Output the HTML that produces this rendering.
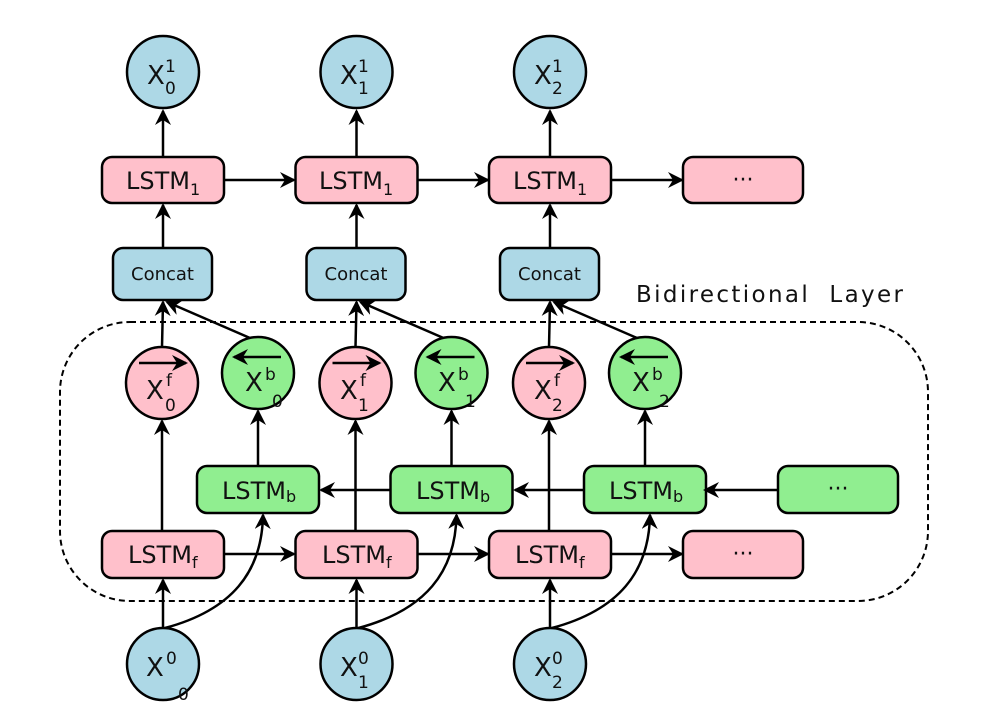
<!DOCTYPE html>
<html><head><meta charset="utf-8"><style>
html,body{margin:0;padding:0;background:#fff;}
svg{display:block;}
text{font-family:"DejaVu Sans","Liberation Sans",sans-serif;fill:#111;}
</style></head><body>
<svg width="982" height="724" viewBox="0 0 982 724" xmlns="http://www.w3.org/2000/svg">
<defs>
<marker id="a" markerWidth="16" markerHeight="16" refX="14" refY="8" orient="auto" markerUnits="userSpaceOnUse">
<path d="M0,0 L16,8 L0,16 L5,8 Z" fill="#000"/>
</marker>
<g id="col" stroke="#000" stroke-width="2.5">
  <line x1="163" y1="157" x2="163" y2="111" marker-end="url(#a)"/>
  <line x1="163" y1="248" x2="163" y2="205" marker-end="url(#a)"/>
  <line x1="162" y1="347" x2="163" y2="302" marker-end="url(#a)"/>
  <line x1="250" y1="338" x2="167" y2="302" marker-end="url(#a)"/>
  <line x1="162" y1="531" x2="162" y2="421" marker-end="url(#a)"/>
  <line x1="258" y1="466" x2="258" y2="411" marker-end="url(#a)"/>
  <line x1="163" y1="628" x2="163" y2="580" marker-end="url(#a)"/>
  <path d="M165,628 C232,610 262,572 263,515" fill="none" marker-end="url(#a)"/>
  <circle cx="163" cy="72" r="36" fill="#add8e6"/>
  <rect x="102" y="157" width="122" height="46" rx="10" fill="#ffc0cb"/>
  <rect x="113" y="248" width="99" height="52" rx="10" fill="#add8e6"/>
  <circle cx="162" cy="383" r="36" fill="#ffc0cb"/>
  <circle cx="258" cy="373" r="36" fill="#90ee90"/>
  <rect x="197" y="466" width="122" height="47" rx="10" fill="#90ee90"/>
  <rect x="102" y="531" width="122" height="47" rx="10" fill="#ffc0cb"/>
  <circle cx="163" cy="664" r="36" fill="#add8e6"/>
  <line x1="139" y1="363" x2="186" y2="363" marker-end="url(#a)"/>
  <line x1="281" y1="357" x2="234" y2="357" marker-end="url(#a)"/>
</g>
</defs>

<rect x="60" y="322" width="868" height="279" rx="70" fill="none" stroke="#000" stroke-width="2" stroke-dasharray="6,4"/>
<text x="636" y="302" font-size="23" textLength="267">Bidirectional&#160;&#160;Layer</text>

<use href="#col"/>
<use href="#col" transform="translate(193.5,0)"/>
<use href="#col" transform="translate(387,0)"/>

<g stroke="#000" stroke-width="2.5">
  <line x1="224" y1="180" x2="294" y2="180" marker-end="url(#a)"/>
  <line x1="418" y1="180" x2="488" y2="180" marker-end="url(#a)"/>
  <line x1="611" y1="180" x2="682" y2="180" marker-end="url(#a)"/>
  <line x1="224" y1="554" x2="294" y2="554" marker-end="url(#a)"/>
  <line x1="418" y1="554" x2="488" y2="554" marker-end="url(#a)"/>
  <line x1="611" y1="554" x2="682" y2="554" marker-end="url(#a)"/>
  <line x1="390" y1="490" x2="321" y2="490" marker-end="url(#a)"/>
  <line x1="584" y1="490" x2="515" y2="490" marker-end="url(#a)"/>
  <line x1="778" y1="490" x2="705" y2="490" marker-end="url(#a)"/>
  <rect x="683" y="157" width="120" height="46" rx="10" fill="#ffc0cb"/>
  <rect x="778" y="466" width="120" height="47" rx="10" fill="#90ee90"/>
  <rect x="683" y="531" width="120" height="47" rx="10" fill="#ffc0cb"/>
</g>
<text x="743" y="187" font-size="22" text-anchor="middle">···</text>
<text x="838" y="496" font-size="22" text-anchor="middle">···</text>
<text x="743" y="561" font-size="22" text-anchor="middle">···</text>

<g font-size="26">
<text x="147" y="84">X</text><text x="165" y="72" font-size="17">1</text><text x="165" y="94" font-size="17">0</text>
<text x="340" y="84">X</text><text x="358" y="72" font-size="17">1</text><text x="358" y="94" font-size="17">1</text>
<text x="534" y="84">X</text><text x="552" y="72" font-size="17">1</text><text x="552" y="94" font-size="17">2</text>

<text x="146" y="676">X</text><text x="166" y="664" font-size="17">0</text><text x="178" y="700" font-size="17">0</text>
<text x="340" y="676">X</text><text x="358" y="664" font-size="17">0</text><text x="358" y="688" font-size="17">1</text>
<text x="534" y="676">X</text><text x="552" y="664" font-size="17">0</text><text x="552" y="688" font-size="17">2</text>

<text x="146" y="399">X</text><text x="166" y="386" font-size="17">f</text><text x="165" y="411" font-size="17">0</text>
<text x="340" y="399">X</text><text x="360" y="386" font-size="17">f</text><text x="358" y="411" font-size="17">1</text>
<text x="534" y="399">X</text><text x="554" y="386" font-size="17">f</text><text x="552" y="411" font-size="17">2</text>

<text x="245" y="391">X</text><text x="265" y="380" font-size="17">b</text><text x="272" y="407" font-size="17">0</text>
<text x="438" y="391">X</text><text x="458" y="380" font-size="17">b</text><text x="465" y="407" font-size="17">1</text>
<text x="632" y="391">X</text><text x="652" y="380" font-size="17">b</text><text x="659" y="407" font-size="17">2</text>
</g>

<g font-size="24">
<text x="126" y="189">LSTM<tspan font-size="16" dy="6">1</tspan></text>
<text x="319" y="189">LSTM<tspan font-size="16" dy="6">1</tspan></text>
<text x="513" y="189">LSTM<tspan font-size="16" dy="6">1</tspan></text>

<text x="222" y="499">LSTM<tspan font-size="16" dy="3">b</tspan></text>
<text x="416" y="499">LSTM<tspan font-size="16" dy="3">b</tspan></text>
<text x="609" y="499">LSTM<tspan font-size="16" dy="3">b</tspan></text>

<text x="128" y="563">LSTM<tspan font-size="16" dy="5">f</tspan></text>
<text x="322" y="563">LSTM<tspan font-size="16" dy="5">f</tspan></text>
<text x="515" y="563">LSTM<tspan font-size="16" dy="5">f</tspan></text>
</g>
<g font-size="18" text-anchor="middle">
<text x="162.5" y="280">Concat</text>
<text x="356" y="280">Concat</text>
<text x="549.5" y="280">Concat</text>
</g>
</svg>
</body></html>
